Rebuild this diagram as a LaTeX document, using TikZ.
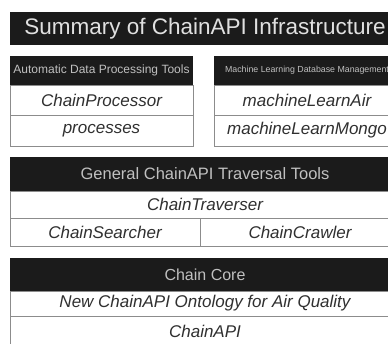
\documentclass[tikz,border=0pt]{standalone}
\usepackage{fontspec}
\setmainfont{Liberation Sans}
\usetikzlibrary{positioning}

\definecolor{barfill}{HTML}{1B1B1B}
\definecolor{bartext}{HTML}{C0C0C0}
\definecolor{cellline}{HTML}{8C8C8C}
\definecolor{celltext}{HTML}{303030}

\tikzset{
  bar/.style={fill=barfill, text=bartext, inner sep=0pt, outer sep=0pt,
    minimum width=#1},
  cell/.style={draw=cellline, line width=0.6pt, fill=white, text=celltext,
    inner sep=0pt, outer sep=0pt, minimum width=#1,
    font=\fontsize{17}{20}\selectfont\itshape},
}

\begin{document}
\begin{tikzpicture}[x=1pt, y=1pt]
  \useasboundingbox (0,0) rectangle (388,-343);

  % Title
  \node[bar=390, minimum height=33, anchor=north west,
    text=white!88!black, font=\fontsize{22.5}{26}\selectfont] (title) at (10,-12)
    {Summary of ChainAPI Infrastructure};

  % Processing tools
  \node[bar=183, minimum height=29, anchor=north west,
    font=\fontsize{12}{14}\selectfont] (proctools) at (10,-56)
    {Automatic Data Processing Tools};
  \node[cell=183, minimum height=30, below=0pt of proctools] (cproc) {ChainProcessor};
  \node[cell=183, minimum height=31, below=0pt of cproc]     (procs) {processes};

  % Machine learning
  \node[bar=186, minimum height=29, anchor=north west,
    font=\fontsize{8.8}{11}\selectfont] (mltools) at (214,-56)
    {Machine Learning Database Management};
  \node[cell=186, minimum height=30, below=0pt of mltools] (mlair)   {machineLearnAir};
  \node[cell=186, minimum height=31, below=0pt of mlair]   (mlmongo) {machineLearnMongo};

  % Traversal tools
  \node[bar=390, minimum height=34, anchor=north west,
    font=\fontsize{16.5}{19}\selectfont] (travtools) at (10,-157)
    {General ChainAPI Traversal Tools};
  \node[cell=390, minimum height=27, below=0pt of travtools] (ctrav) {ChainTraverser};
  \node[cell=190, minimum height=28, below=0pt of ctrav.south west,
    anchor=north west] (csearch) {ChainSearcher};
  \node[cell=200, minimum height=28, right=0pt of csearch] (ccrawl) {ChainCrawler};

  % Core
  \node[bar=390, minimum height=33, anchor=north west,
    font=\fontsize{16}{19}\selectfont] (core) at (10,-258) {Chain Core};
  \node[cell=390, minimum height=25, below=0pt of core] (onto)
    {New ChainAPI Ontology for Air Quality};
  \node[cell=390, minimum height=30, below=0pt of onto] (capi) {ChainAPI};

\end{tikzpicture}
\end{document}
